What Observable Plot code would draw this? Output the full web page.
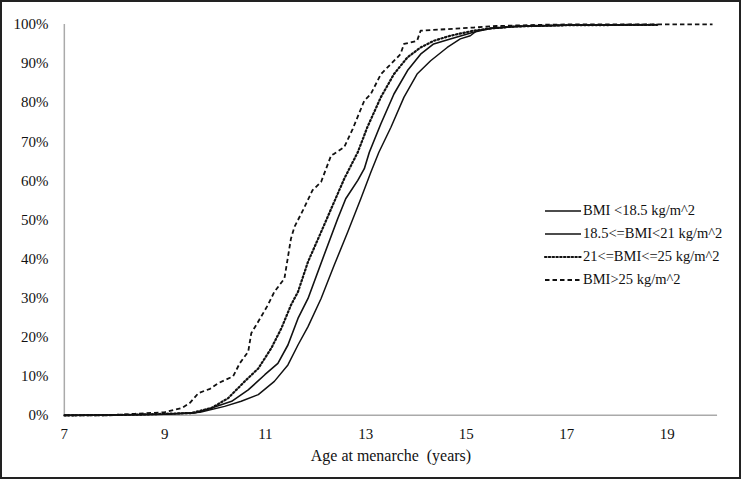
<!DOCTYPE html>
<html><head><meta charset="utf-8">
<script src="https://cdn.jsdelivr.net/npm/d3@7"></script>
<script src="https://cdn.jsdelivr.net/npm/@observablehq/plot@0.6"></script>
<style>
html,body{margin:0;padding:0;background:#fff;}
#wrap{position:relative;width:741px;height:479px;box-sizing:border-box;border:2px solid #222;overflow:hidden;font-family:"Liberation Serif",serif;}
#chart{position:absolute;left:-2px;top:-2px;}
#chart svg, #chart svg text{font-family:"Liberation Serif",serif !important;}
#legend{position:absolute;left:541px;top:197px;font-size:14.5px;color:#111;}
.row{height:23px;display:flex;align-items:center;white-space:nowrap;}
.row svg{margin-right:1px;}
</style></head>
<body><div id="wrap"><div id="chart"></div><div id="legend"></div></div>
<script>
const seriesNames = ["BMI <18.5 kg/m^2","18.5<=BMI<21 kg/m^2","21<=BMI<=25 kg/m^2","BMI>25 kg/m^2"];
const dashes = [null, null, "1.4,2.4", "4.5,3"];
const widths = [1.5, 1.6, 2.2, 1.8];

const ageLow = [7,8,9,9.7,10.19,10.52,10.86,11.18,11.45,11.65,11.85,12.11,12.37,12.64,12.9,13.1,13.26,13.5,13.76,14.02,14.29,14.62,14.88,15.08,15.21,15.5,16,17,18.8];
const pctLow = [0,0.1,0.3,0.8,2.3,3.6,5.3,8.7,12.9,18,22.7,29.9,38.4,46.9,55.4,62.2,67.3,73.7,81.4,87.3,90.7,94.1,96.3,97.1,98.4,99,99.5,99.8,99.9];

const ageNormal = [7,8,9,9.6,9.93,10.33,10.66,10.99,11.25,11.45,11.65,11.85,12.17,12.44,12.6,12.84,12.97,13.07,13.3,13.56,13.83,14.09,14.35,14.68,15.14,15.5,16,17,18.8];
const pctNormal = [0,0.1,0.3,0.6,1.9,3.6,6.5,10.4,13.3,18,24.8,29.9,41,50.3,55.4,60.1,63.1,67.3,74.6,82.2,88.2,92.4,95,96.3,98,99,99.5,99.8,99.9];

const ageHigh = [7,8,8.5,9,9.53,9.93,10.26,10.59,10.86,11.12,11.32,11.51,11.65,11.85,12.11,12.37,12.57,12.84,13.03,13.3,13.56,13.83,14.09,14.35,14.68,15.14,15.5,16,17,18.8];
const pctHigh = [0,0.1,0.2,0.4,0.6,1.9,4.4,8.7,12,17.2,22.3,28.2,31.6,39.3,46.9,54.6,60.5,67.3,73.7,81.4,87.3,91.6,94.1,95.8,97.1,98.4,99,99.5,99.8,99.9];

const ageObese = [7,7.9,8.4,9,9.34,9.5,9.67,9.9,10.06,10.36,10.49,10.66,10.72,10.86,11.05,11.18,11.38,11.51,11.58,11.75,11.94,12.11,12.31,12.37,12.57,12.74,12.97,13.1,13.3,13.5,13.69,13.76,14.02,14.09,14.62,15.14,15.6,16.5,17,19.9];
const pctObese = [0,0,0.4,0.8,1.9,3.2,5.7,6.8,8.2,10,13.3,16.3,21,24,28.2,31.6,35,45.2,48.2,52.5,57.6,59.7,66.5,66.9,68.6,73.3,80.5,82.2,87.3,89.9,92.4,95,95.8,98.4,98.8,99.2,99.6,99.9,100,100];

const xTicks = [7,9,11,13,15,17,19];
const yTicks = [0,10,20,30,40,50,60,70,80,90,100];

const ages = [ageLow, ageNormal, ageHigh, ageObese];
const pcts = [pctLow, pctNormal, pctHigh, pctObese];
const rows = [];
ages.forEach((a, s) => a.forEach((v, i) => rows.push({series: s, age: v, pct: pcts[s][i]})));

const lineMarks = seriesNames.map((n, s) => Plot.line(rows.filter(d => d.series === s), {
  x: "age", y: "pct", stroke: "#111", strokeWidth: widths[s],
  strokeDasharray: dashes[s] || undefined, strokeLinecap: s === 2 ? "round" : "butt"
}));

const chart = Plot.plot({
  width: 741, height: 479,
  marginLeft: 64, marginRight: 22, marginTop: 24, marginBottom: 63,
  style: {fontSize: "15px", color: "#111", background: "transparent"},
  x: {domain: [7, 20], ticks: xTicks, tickSize: 0, tickPadding: 13, label: "Age at menarche  (years)", labelArrow: "none", labelAnchor: "center", labelOffset: 46},
  y: {domain: [0, 100], ticks: yTicks, tickSize: 0, tickPadding: 16, tickFormat: d => d + "%", label: null},
  marks: [
    Plot.ruleY([0], {stroke: "#aaa", strokeWidth: 1.5}),
    Plot.ruleX([7], {stroke: "#aaa", strokeWidth: 1.5}),
    ...lineMarks
  ]
});
d3.select(chart).selectAll("g[aria-label='x-axis label'] text").style("font-size", "16px");
document.getElementById("chart").appendChild(chart);

const leg = document.getElementById("legend");
seriesNames.forEach((n, s) => {
  const r = document.createElement("div"); r.className = "row";
  const svg = d3.create("svg").attr("width", 39).attr("height", 10);
  svg.append("line").attr("x1", 2).attr("x2", 38).attr("y1", 5).attr("y2", 5)
    .attr("stroke", "#111").attr("stroke-width", widths[s])
    .attr("stroke-linecap", s === 2 ? "round" : "butt")
    .attr("stroke-dasharray", dashes[s]);
  r.appendChild(svg.node());
  const t = document.createElement("span"); t.textContent = n; r.appendChild(t);
  leg.appendChild(r);
});
</script></body></html>
